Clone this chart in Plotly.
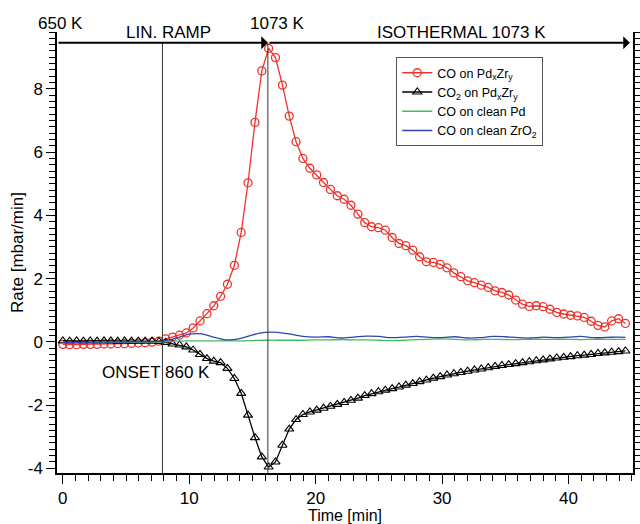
import plotly.graph_objects as go

# ---------------- data ----------------
time_min = [0.00, 0.54, 1.09, 1.63, 2.17, 2.71, 3.26, 3.80, 4.34, 4.88,
            5.43, 5.97, 6.51, 7.06, 7.60, 8.14, 8.68, 9.23, 9.77, 10.31,
            10.85, 11.40, 11.94, 12.48, 13.02, 13.57, 14.11, 14.65, 15.20, 15.74,
            16.28, 16.82, 17.37, 17.91, 18.45, 18.99, 19.54, 20.08, 20.62, 21.17,
            21.71, 22.25, 22.79, 23.34, 23.88, 24.42, 24.96, 25.51, 26.05, 26.59,
            27.13, 27.68, 28.22, 28.76, 29.31, 29.85, 30.39, 30.93, 31.48, 32.02,
            32.56, 33.10, 33.65, 34.19, 34.73, 35.27, 35.82, 36.36, 36.90, 37.45,
            37.99, 38.53, 39.07, 39.62, 40.16, 40.70, 41.24, 41.79, 42.33, 42.87,
            43.41, 43.96, 44.50]

co_pdzr = [-0.08, -0.09, -0.09, -0.08, -0.08, -0.08, -0.07, -0.07, -0.06, -0.06,
           -0.05, -0.04, -0.03, -0.01, 0.02, 0.09, 0.15, 0.21, 0.28, 0.44,
           0.66, 0.89, 1.14, 1.44, 1.82, 2.42, 3.46, 5.03, 6.94, 8.57,
           9.28, 8.99, 8.12, 7.14, 6.33, 5.80, 5.49, 5.28, 5.04, 4.82,
           4.62, 4.51, 4.32, 4.04, 3.77, 3.64, 3.61, 3.53, 3.30, 3.11,
           3.04, 2.90, 2.69, 2.53, 2.51, 2.45, 2.34, 2.18, 2.06, 1.93,
           1.87, 1.79, 1.72, 1.61, 1.56, 1.48, 1.32, 1.19, 1.12, 1.14,
           1.11, 1.03, 0.93, 0.88, 0.84, 0.82, 0.77, 0.65, 0.52, 0.47,
           0.66, 0.73, 0.58]

co2_pdzr = [0.03, 0.02, 0.03, 0.02, 0.03, 0.02, 0.03, 0.03, 0.02, 0.03,
            0.02, 0.02, 0.02, 0.02, 0.01, -0.02, -0.07, -0.10, -0.16, -0.26,
            -0.40, -0.53, -0.61, -0.66, -0.84, -1.16, -1.63, -2.32, -3.03, -3.64,
            -3.96, -3.80, -3.27, -2.76, -2.46, -2.30, -2.22, -2.16, -2.10, -2.04,
            -1.98, -1.92, -1.85, -1.78, -1.70, -1.64, -1.58, -1.53, -1.48, -1.43,
            -1.37, -1.32, -1.26, -1.21, -1.15, -1.10, -1.05, -1.01, -0.97, -0.93,
            -0.89, -0.86, -0.82, -0.78, -0.75, -0.72, -0.69, -0.66, -0.63, -0.60,
            -0.57, -0.54, -0.51, -0.49, -0.47, -0.44, -0.42, -0.40, -0.37, -0.35,
            -0.33, -0.31, -0.29]

time_ref = [0, 1, 2, 3, 4, 5, 6, 7, 8, 9, 10, 11, 12, 13, 14, 15, 16, 17, 18, 19,
            20, 21, 22, 23, 24, 25, 26, 27, 28, 29, 30, 31, 32, 33, 34, 35, 36, 37,
            38, 39, 40, 41, 42, 43, 44, 44.5]

co_clean_pd = [-0.03, -0.03, -0.03, -0.03, -0.02, -0.02, -0.02, -0.02, 0.00, 0.02,
               0.03, 0.03, 0.03, 0.03, 0.03, 0.04, 0.05, 0.05, 0.05, 0.05,
               0.06, 0.06, 0.07, 0.06, 0.06, 0.05, 0.04, 0.05, 0.07, 0.08,
               0.09, 0.08, 0.06, 0.07, 0.08, 0.07, 0.07, 0.08, 0.08, 0.08,
               0.08, 0.07, 0.08, 0.08, 0.08, 0.08]

co_clean_zro2 = [-0.02, -0.02, -0.02, -0.01, -0.01, -0.01, 0.00, 0.00, 0.03, 0.12,
                 0.24, 0.25, 0.14, 0.06, 0.10, 0.22, 0.30, 0.30, 0.24, 0.17,
                 0.15, 0.16, 0.12, 0.15, 0.18, 0.17, 0.13, 0.15, 0.17, 0.14,
                 0.13, 0.16, 0.12, 0.13, 0.17, 0.16, 0.13, 0.12, 0.15, 0.13,
                 0.15, 0.17, 0.13, 0.14, 0.15, 0.14]

x_ticks = [0, 10, 20, 30, 40]
x_tick_labels = ["0", "10", "20", "30", "40"]
y_ticks = [-4, -2, 0, 2, 4, 6, 8]
y_tick_labels = ["-4", "-2", "0", "2", "4", "6", "8"]

onset_time = 7.88
iso_time = 16.22
arrow_level = 9.46

FONT = "Liberation Sans, Arial, sans-serif"

fig = go.Figure()

fig.add_trace(go.Scatter(
    x=time_min, y=co_pdzr, mode="lines+markers",
    name="CO on Pd<sub>x</sub>Zr<sub>y</sub>",
    line=dict(color="rgb(236,52,44)", width=1.3),
    marker=dict(symbol="circle-open", size=8, color="rgb(236,52,44)",
                line=dict(width=1.3, color="rgb(236,52,44)")),
))
fig.add_trace(go.Scatter(
    x=time_min, y=co2_pdzr, mode="lines+markers",
    name="CO<sub>2</sub> on Pd<sub>x</sub>Zr<sub>y</sub>",
    line=dict(color="black", width=1.3),
    marker=dict(symbol="triangle-up-open", size=8, color="black",
                line=dict(width=1.1, color="black")),
))
fig.add_trace(go.Scatter(
    x=time_ref, y=co_clean_pd, mode="lines", name="CO on clean Pd",
    line=dict(color="rgb(70,185,100)", width=1.3, shape="spline"),
))
fig.add_trace(go.Scatter(
    x=time_ref, y=co_clean_zro2, mode="lines", name="CO on clean ZrO<sub>2</sub>",
    line=dict(color="rgb(45,70,175)", width=1.3, shape="spline"),
))

xmin, xmax = -0.46, 45.1
ymin, ymax = -4.15, 9.8

# vertical marker lines
for xv in (onset_time, iso_time):
    fig.add_shape(type="line", x0=xv, x1=xv, y0=ymin, y1=arrow_level,
                  xref="x", yref="y", line=dict(color="#333", width=1))

# arrows
fig.add_annotation(x=iso_time, y=arrow_level, ax=xmin, ay=arrow_level,
                   xref="x", yref="y", axref="x", ayref="y", text="",
                   showarrow=True, arrowhead=1, arrowsize=1.1, arrowwidth=2,
                   arrowcolor="black")
fig.add_annotation(x=44.85, y=arrow_level, ax=iso_time, ay=arrow_level,
                   xref="x", yref="y", axref="x", ayref="y", text="",
                   showarrow=True, arrowhead=1, arrowsize=1.1, arrowwidth=2,
                   arrowcolor="black")

# text labels (y in paper units so that they may sit above the axes)
texts = [
    ("650 K", -0.2, 1.020),
    ("LIN. RAMP", 8.35, 0.998),
    ("1073 K", 16.95, 1.020),
    ("ISOTHERMAL 1073 K", 31.5, 0.998),
]
for t, xx, yy in texts:
    fig.add_annotation(x=xx, y=yy, xref="x", yref="paper", text=t, showarrow=False,
                       font=dict(family=FONT, size=17, color="black"),
                       xanchor="center", yanchor="middle")
fig.add_annotation(x=7.35, y=-0.96, xref="x", yref="y", text="ONSET 860 K",
                   showarrow=False, font=dict(family=FONT, size=17, color="black"),
                   xanchor="center", yanchor="middle")

axis_common = dict(showgrid=False, zeroline=False, showline=True, linecolor="black",
                   linewidth=1.5, ticks="outside", tickcolor="black", tickwidth=1,
                   ticklen=9, tickfont=dict(family=FONT, size=17, color="black"))

fig.update_xaxes(range=[xmin, xmax], tickvals=x_ticks, ticktext=x_tick_labels, mirror=False,
                 minor=dict(dtick=1, tick0=0, ticks="outside", ticklen=6,
                            tickcolor="black", tickwidth=1),
                 title=dict(text="Time [min]", font=dict(family=FONT, size=16, color="black"),
                            standoff=4),
                 **axis_common)
fig.update_yaxes(range=[ymin, ymax], tickvals=y_ticks, ticktext=y_tick_labels, mirror="ticks",
                 minor=dict(dtick=0.2, tick0=0, ticks="outside", ticklen=6,
                            tickcolor="black", tickwidth=1),
                 title=dict(text="Rate [mbar/min]", font=dict(family=FONT, size=17, color="black"),
                            standoff=0),
                 **axis_common)

fig.update_layout(
    width=640, height=524,
    margin=dict(l=57, r=7, t=32, b=51, autoexpand=False),
    plot_bgcolor="white", paper_bgcolor="white",
    font=dict(family=FONT, color="black"),
    legend=dict(x=0.589, y=0.943, xanchor="left", yanchor="top",
                bgcolor="white", bordercolor="#555", borderwidth=1,
                font=dict(family=FONT, size=12.5, color="black"),
                tracegroupgap=0, itemwidth=30),
    showlegend=True,
)

fig.write_html("out.html", config={"displayModeBar": False},
               post_script="document.body.style.margin='0';document.body.style.overflow='hidden';")
